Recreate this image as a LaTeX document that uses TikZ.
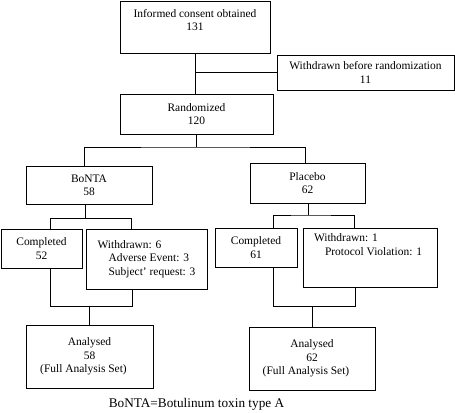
\documentclass[tikz,border=0pt]{standalone}
\usepackage{fontspec}
\setmainfont{Liberation Serif}
\usetikzlibrary{positioning}
\usetikzlibrary{calc}

\begin{document}
\begin{tikzpicture}[
			x=1bp, y=-1bp, line width=0.8pt,
			every node/.style={font=\fontsize{11.5}{13.5}\selectfont},
			box/.style={draw, align=center, inner sep=0pt},
			txt/.style={inner sep=0pt}
		]
			\useasboundingbox (0,0) rectangle (455,412);
			\node[box, minimum width=150bp, minimum height=52bp] (consent) at (195,27) {};
			\node[txt, align=center, anchor=north] (consent-t) at ([yshift=-8bp]consent.north) {Informed consent obtained\\131};
			\node[box, minimum width=177bp, minimum height=35bp] (wbr) at (365.5,72.5) {Withdrawn before randomization\\11};
			\node[box, minimum width=153bp, minimum height=40bp] (rand) at (196.5,114) {Randomized\\120};
			\node[box, minimum width=126bp, minimum height=38bp] (bonta) at (89,185) {BoNTA\\58};
			\node[box, minimum width=115bp, minimum height=40bp] (placebo) at (307.5,183) {Placebo\\62};
			\node[box, minimum width=81bp, minimum height=39bp] (compl) at (41.5,248.5) {Completed\\52};
			\node[box, align=left, minimum width=121bp, minimum height=60bp] (wdl) at (146.5,259) {Withdrawn: 6\\\hspace*{11bp}Adverse Event: 3\\\hspace*{11bp}Subject' request: 3};
			\node[box, minimum width=82bp, minimum height=39bp] (compr) at (256,247.5) {Completed\\61};
			\node[box, minimum width=134bp, minimum height=59bp] (wdr) at (370,257.5) {};
			\node[txt, align=left, anchor=north west] (wdr-t) at ([xshift=11bp, yshift=-6bp]wdr.north west) {Withdrawn: 1\\\hspace*{11bp}Protocol Violation: 1};
			\node[box, minimum width=127bp, minimum height=63bp] (anl) at (89.5,356.5) {Analysed\\58\\(Full Analysis Set)\hspace*{12bp}};
			\node[box, minimum width=126bp, minimum height=63bp] (anr) at (312,358.5) {Analysed\\62\\(Full Analysis Set)\hspace*{12bp}};
			\node[txt, font=\fontsize{13.3}{15}\selectfont] (note) at (196.5,404) {BoNTA=Botulinum toxin type A};

			\coordinate (s1) at (196,147);
			\coordinate (s2) at (85,218);
			\coordinate (s3) at (308,215);
			\coordinate (s4) at (89,306);
			\coordinate (s5) at (312,306);

			\draw (consent.south) -- (consent.south |- rand.north);
			\draw (consent.south |- wbr.west) -- (wbr.west);
			\draw (rand.south -| s1) -- (s1);
			\draw ([xshift=-5bp]bonta.north) |- (s1) -| ([xshift=-2.5bp]placebo.north);
			\draw (bonta.south -| s2) -- (s2);
			\draw ([xshift=8.5bp]compl.north) |- (s2) -| ([xshift=-15bp]wdl.north);
			\draw (placebo.south -| s3) -- (s3);
			\draw ([xshift=17bp]compr.north) |- (s3) -| ([xshift=-16bp]wdr.north);
			\draw ([xshift=8.5bp]compl.south) |- (s4) -| ([xshift=-14.5bp]wdl.south);
			\draw (s4) -- (anl.north -| s4);
			\draw ([xshift=17bp]compr.south) |- (s5) -| ([xshift=-15bp]wdr.south);
			\draw (s5) -- (anr.north -| s5);
		\end{tikzpicture}
\end{document}
